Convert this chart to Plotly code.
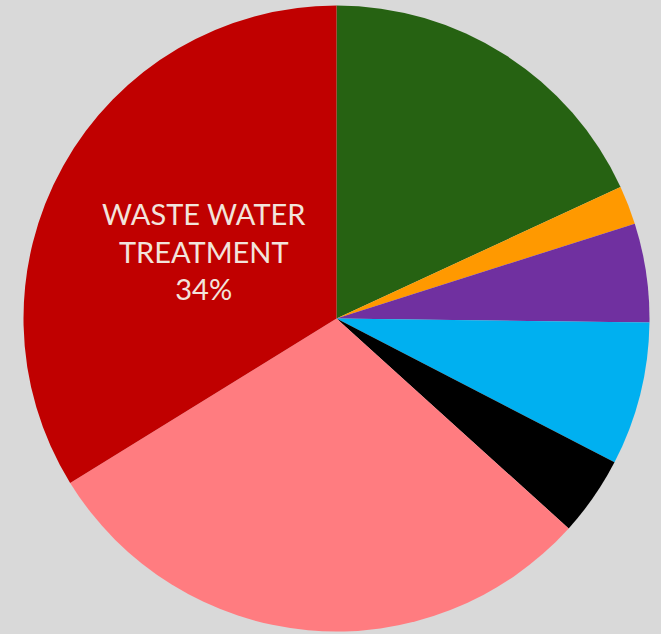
import plotly.graph_objects as go

# Share of emissions by waste sub-sector (percent)
categories = [
    "Incineration",
    "Open burning",
    "Composting",
    "Industrial wastewater",
    "Other",
    "Solid waste disposal",
    "Waste water treatment",
]
shares = [18.1, 2.0, 5.1, 7.4, 4.1, 29.5, 33.8]
slice_colors = ["#266212", "#FF9900", "#7030A0", "#00B0F0", "#000000", "#FF7C80", "#C00000"]
label_name = "WASTE WATER<br>TREATMENT"
label_index = 6

W, H = 661, 634
cx, cy, r = 336.5, 318.5, 313.0

fig = go.Figure(
    go.Pie(
        labels=categories,
        values=shares,
        textinfo="none",
        sort=False,
        direction="clockwise",
        rotation=0,
        marker=dict(colors=slice_colors, line=dict(width=0)),
        showlegend=False,
        domain=dict(
            x=[(cx - r) / W, (cx + r) / W],
            y=[(H - cy - r) / H, (H - cy + r) / H],
        ),
    )
)

pct = round(shares[label_index] / sum(shares) * 100)
fig.add_annotation(
    x=204 / W,
    y=1 - 251 / H,
    xref="paper",
    yref="paper",
    xanchor="center",
    yanchor="middle",
    showarrow=False,
    align="center",
    text=f"{label_name}<br>{pct}%",
    font=dict(family="Lato", size=29, color="#F2E4DC"),
)

fig.update_layout(
    width=W,
    height=H,
    margin=dict(l=0, r=0, t=0, b=0),
    paper_bgcolor="#D9D9D9",
    plot_bgcolor="#D9D9D9",
)

fig.write_html("out.html")
